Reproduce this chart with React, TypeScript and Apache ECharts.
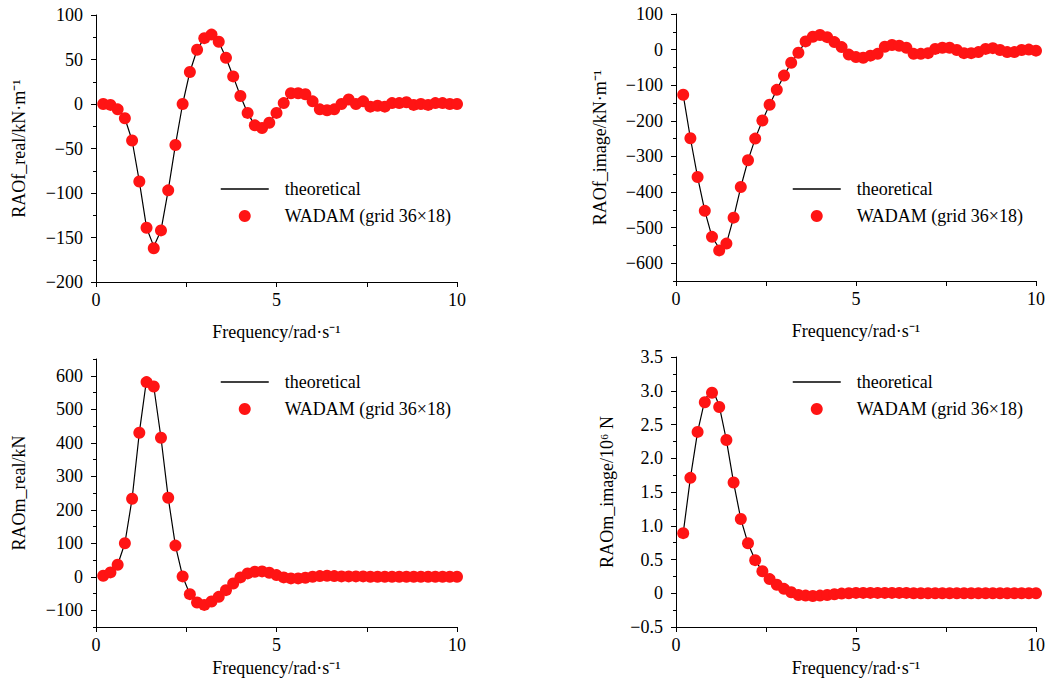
import React, { useEffect, useRef } from "react";
import * as echarts from "echarts";

const FREQ = [
  0.2, 0.4, 0.6, 0.8, 1.0, 1.2, 1.4, 1.6, 1.8, 2.0,
  2.2, 2.4, 2.6, 2.8, 3.0, 3.2, 3.4, 3.6, 3.8, 4.0,
  4.2, 4.4, 4.6, 4.8, 5.0, 5.2, 5.4, 5.6, 5.8, 6.0,
  6.2, 6.4, 6.6, 6.8, 7.0, 7.2, 7.4, 7.6, 7.8, 8.0,
  8.2, 8.4, 8.6, 8.8, 9.0, 9.2, 9.4, 9.6, 9.8, 10.0,
];

// Panel 1: RAOf_real
const F_REAL_WADAM = [
  0, -1, -6, -16, -41, -87, -139, -162, -142, -97,
  -46, 0, 36, 61, 74, 78, 70, 52, 31, 9,
  -10, -24, -27, -21, -10, 1, 12, 12, 11, 3,
  -6, -7, -6, 0, 5, 0, 3, -3, -2, -3,
  1, 1, 2, -1, 0, -1, 1, 1, 0, 0,
];
const F_REAL_THEO = [
  0, -1, -6, -16, -41, -87, -139, -160, -142, -97,
  -46, 0, 36, 61, 74, 78, 70, 52, 31, 9,
  -10, -24, -27, -21, -10, 1, 12, 12, 11, 3,
  -6, -7, -6, 0, 5, 0, 3, -3, -2, -3,
  1, 1, 2, -1, 0, -1, 1, 1, 0, 0,
];

// Panel 2: RAOf_image
const F_IMAG_WADAM = [
  -127, -249, -358, -453, -526, -564, -545, -472, -386, -311,
  -250, -199, -155, -113, -73, -37, -9, 23, 36, 41,
  35, 21, 7, -14, -21, -23, -17, -12, 8, 13,
  11, 5, -12, -12, -10, 2, 5, 5, -1, -10,
  -10, -7, 2, 4, -1, -7, -7, -1, 0, -3,
];
const F_IMAG_THEO = [
  -127, -249, -358, -453, -526, -558, -545, -472, -386, -311,
  -250, -199, -155, -113, -73, -37, -9, 23, 36, 41,
  35, 21, 7, -14, -21, -23, -17, -12, 8, 13,
  11, 5, -12, -12, -10, 2, 5, 5, -1, -10,
  -10, -7, 2, 4, -1, -7, -7, -1, 0, -3,
];

// Panel 3: RAOm_real
const M_REAL_WADAM = [
  3, 13, 36, 100, 233, 430, 581, 568, 415, 236,
  93, 1, -52, -77, -84, -74, -60, -40, -20, -2,
  10, 15, 16, 12, 5, -2, -5, -5, -3, 0,
  2, 3, 2, 1, 1, 1, 1, 0, 0, 0,
  0, 0, 0, 0, 0, 0, 0, 0, 0, 0,
];
const M_REAL_THEO = [
  3, 13, 36, 100, 233, 430, 588, 568, 415, 236,
  93, 1, -52, -77, -84, -74, -60, -40, -20, -2,
  10, 15, 16, 12, 5, -2, -5, -5, -3, 0,
  2, 3, 2, 1, 1, 1, 1, 0, 0, 0,
  0, 0, 0, 0, 0, 0, 0, 0, 0, 0,
];

// Panel 4: RAOm_image
const M_IMAG_WADAM = [
  0.89, 1.71, 2.39, 2.83, 2.97, 2.76, 2.27, 1.64, 1.1, 0.74,
  0.49, 0.325, 0.21, 0.125, 0.065, 0.015, -0.025, -0.035, -0.04, -0.035,
  -0.025, -0.015, -0.005, 0, 0.005, 0.005, 0.005, 0.005, 0.005, 0.005,
  0.005, 0.005, 0, 0, 0, 0, 0, 0, 0, 0,
  0, 0, 0, 0, 0, 0, 0, 0, 0, 0,
];
const M_IMAG_THEO = [
  0.89, 1.71, 2.39, 2.86, 3.04, 2.78, 2.27, 1.64, 1.1, 0.74,
  0.49, 0.325, 0.21, 0.125, 0.065, 0.015, -0.025, -0.035, -0.04, -0.035,
  -0.025, -0.015, -0.005, 0, 0.005, 0.005, 0.005, 0.005, 0.005, 0.005,
  0.005, 0.005, 0, 0, 0, 0, 0, 0, 0, 0,
  0, 0, 0, 0, 0, 0, 0, 0, 0, 0,
];

const X_LABELS = [0, 5, 10];
const THEO_NAME = "theoretical";
const WADAM_NAME = "WADAM (grid 36×18)";
const X_NAME = "Frequency/rad·s⁻¹";

const FONT = "'Liberation Serif', 'Times New Roman', serif";
const RED = "#ff1414";

const fmtNum = (v: number, dec: number) => {
  if (Math.abs(v) < 1e-9) return "0";
  return v.toFixed(dec).replace("-", "−");
};

type Panel = {
  yName: string;
  wadam: number[];
  theo: number[];
  min: number;
  max: number;
  step: number;
  halfStepAxis: boolean;
  dec: number;
  grid: { left: number; top: number; width: number; height: number };
  nameGap: number;
  xNameGap: number;
  legend: { left: number; top: number };
};

const PANELS: Panel[] = [
  {
    yName: "RAOf_real/kN·m⁻¹",
    wadam: F_REAL_WADAM,
    theo: F_REAL_THEO,
    min: -200,
    max: 100,
    step: 50,
    halfStepAxis: false,
    dec: 0,
    grid: { left: 96, top: 15, width: 361, height: 267 },
    nameGap: 68,
    xNameGap: 41,
    legend: { left: 220, top: 179 },
  },
  {
    yName: "RAOf_image/kN·m⁻¹",
    wadam: F_IMAG_WADAM,
    theo: F_IMAG_THEO,
    min: -650,
    max: 100,
    step: 100,
    halfStepAxis: true,
    dec: 0,
    grid: { left: 676, top: 14, width: 363, height: 267 },
    nameGap: 67,
    xNameGap: 41,
    legend: { left: 792, top: 179 },
  },
  {
    yName: "RAOm_real/kN",
    wadam: M_REAL_WADAM,
    theo: M_REAL_THEO,
    min: -150,
    max: 650,
    step: 100,
    halfStepAxis: true,
    dec: 0,
    grid: { left: 96, top: 359, width: 361, height: 268 },
    nameGap: 68,
    xNameGap: 32,
    legend: { left: 220, top: 372 },
  },
  {
    yName: "RAOm_image/10⁶ N",
    wadam: M_IMAG_WADAM,
    theo: M_IMAG_THEO,
    min: -0.5,
    max: 3.5,
    step: 0.5,
    halfStepAxis: false,
    dec: 1,
    grid: { left: 676, top: 357, width: 363, height: 270 },
    nameGap: 60,
    xNameGap: 32,
    legend: { left: 792, top: 372 },
  },
];

const textBase = { color: "#000", fontFamily: FONT, fontSize: 18 };
const axisLineStyle = { color: "#000", width: 1 };

function buildOption() {
  const grid: any[] = [];
  const xAxis: any[] = [];
  const yAxis: any[] = [];
  const series: any[] = [];
  const legend: any[] = [];

  PANELS.forEach((p, i) => {
    grid.push({ ...p.grid, containLabel: false });
    xAxis.push({
      type: "value",
      gridIndex: i,
      min: 0,
      max: 10,
      interval: 2.5,
      name: X_NAME,
      nameLocation: "middle",
      nameGap: p.xNameGap,
      nameTextStyle: textBase,
      axisLine: { show: true, onZero: false, lineStyle: axisLineStyle },
      axisTick: { show: true, inside: false, length: 5, lineStyle: axisLineStyle },
      axisLabel: {
        ...textBase,
        margin: 9,
        formatter: (v: number) => (X_LABELS.some((l) => Math.abs(l - v) < 1e-6) ? String(v) : ""),
      },
      splitLine: { show: false },
    });

    const yIdx = yAxis.length;
    const labelled = (v: number) => Math.abs(v / p.step - Math.round(v / p.step)) < 1e-6;
    const common = {
      type: "value",
      gridIndex: i,
      min: p.min,
      max: p.max,
      position: "left",
      splitLine: { show: false },
    };
    if (!p.halfStepAxis) {
      yAxis.push({
        ...common,
        interval: p.step,
        name: p.yName,
        nameLocation: "middle",
        nameGap: p.nameGap,
        nameTextStyle: textBase,
        axisLine: { show: true, onZero: false, lineStyle: axisLineStyle },
        axisTick: { show: true, inside: false, length: 5, lineStyle: axisLineStyle },
        minorTick: { show: true, splitNumber: 2, length: 3, lineStyle: axisLineStyle },
        axisLabel: { ...textBase, margin: 13, formatter: (v: number) => fmtNum(v, p.dec) },
      });
    } else {
      const majors: number[] = [];
      for (let v = Math.ceil(p.min / p.step) * p.step; v <= p.max + 1e-9; v += p.step) majors.push(v);
      yAxis.push({
        ...common,
        interval: p.step / 2,
        name: p.yName,
        nameLocation: "middle",
        nameGap: p.nameGap,
        nameTextStyle: textBase,
        axisLine: { show: true, onZero: false, lineStyle: axisLineStyle },
        axisTick: { show: true, inside: false, length: 3, lineStyle: axisLineStyle },
        axisLabel: {
          ...textBase,
          margin: 13,
          formatter: (v: number) => (labelled(v) ? fmtNum(v, p.dec) : ""),
        },
      });
      yAxis.push({
        ...common,
        interval: p.step / 2,
        axisLine: { show: false },
        axisTick: { show: true, inside: false, length: 5, customValues: majors, lineStyle: axisLineStyle },
        axisLabel: { show: false },
      });
    }

    series.push({
      type: "line",
      name: THEO_NAME,
      xAxisIndex: i,
      yAxisIndex: yIdx,
      data: FREQ.map((f, k) => [f, p.theo[k]]),
      symbol: "none",
      lineStyle: { color: "#000", width: 1.2 },
      itemStyle: { color: "#000" },
      z: 2,
    });
    series.push({
      type: "scatter",
      name: WADAM_NAME,
      xAxisIndex: i,
      yAxisIndex: yIdx,
      data: FREQ.map((f, k) => [f, p.wadam[k]]),
      symbol: "circle",
      symbolSize: 12,
      itemStyle: { color: RED, opacity: 1 },
      z: 3,
    });

    legend.push({
      show: true,
      orient: "vertical",
      left: p.legend.left,
      top: p.legend.top,
      padding: 0,
      itemWidth: 48,
      itemHeight: 12,
      itemGap: 7,
      selectedMode: false,
      data: [
        { name: THEO_NAME, itemStyle: { opacity: 0 }, lineStyle: { color: "#000", width: 1.5 } },
        { name: WADAM_NAME },
      ],
      textStyle: { ...textBase, lineHeight: 20, padding: [0, 0, 0, 11] },
    });
  });

  return {
    animation: false,
    backgroundColor: "#fff",
    grid,
    xAxis,
    yAxis,
    series,
    legend,
  };
}

export default function App() {
  const ref = useRef<HTMLDivElement>(null);
  useEffect(() => {
    if (!ref.current) return;
    const chart = echarts.init(ref.current, undefined, { renderer: "svg" });
    chart.setOption(buildOption() as any);
    return () => chart.dispose();
  }, []);
  return (
    <div
      ref={ref}
      style={{ position: "fixed", left: 0, top: 0, width: 1048, height: 689, background: "#fff" }}
    />
  );
}
